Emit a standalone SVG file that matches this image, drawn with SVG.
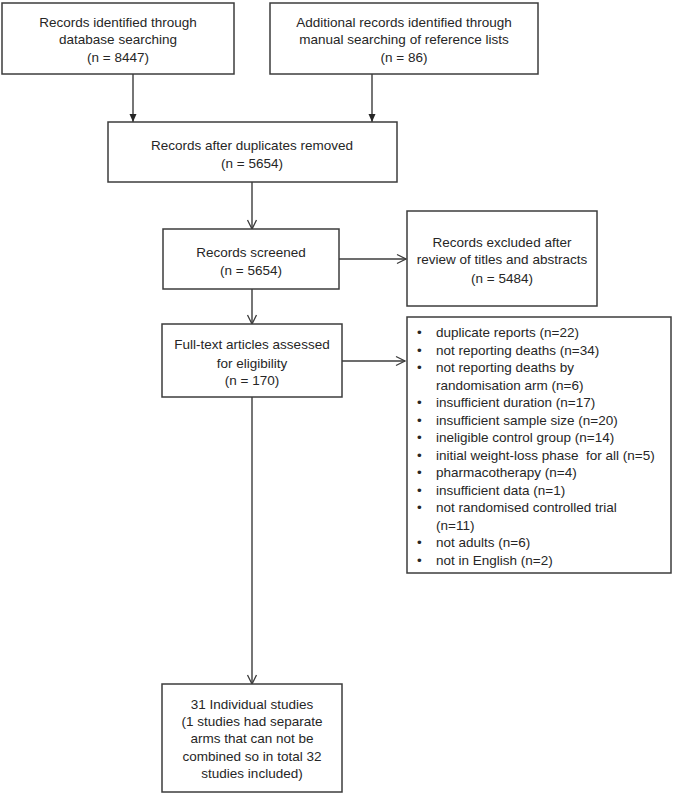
<svg xmlns="http://www.w3.org/2000/svg" width="674" height="796" viewBox="0 0 674 796">
<defs>
<style>
.box{fill:#fff;stroke:#3c3c3c;stroke-width:1.5}
.t{font-family:"Liberation Sans",Arial,sans-serif;font-size:13.5px;fill:#262626;text-anchor:middle}
.l{font-family:"Liberation Sans",Arial,sans-serif;font-size:13.5px;fill:#262626}
.c{stroke:#3c3c3c;stroke-width:1.4;fill:none}
</style>
<marker id="fill" markerWidth="10" markerHeight="10" refX="9" refY="5" orient="auto" markerUnits="userSpaceOnUse">
<path d="M1,1.5 L9,5 L1,8.5 Z" fill="#262626"/>
</marker>
<marker id="open" markerWidth="12" markerHeight="12" refX="10" refY="6" orient="auto" markerUnits="userSpaceOnUse">
<path d="M1,1.5 L10,6 L1,10.5" fill="none" stroke="#3c3c3c" stroke-width="1.3"/>
</marker>
</defs>
<rect width="674" height="796" fill="#fff"/>
<g id="connectors">
<line class="c" x1="133" y1="74" x2="133" y2="122" marker-end="url(#fill)"/>
<line class="c" x1="372" y1="74" x2="372" y2="122" marker-end="url(#fill)"/>
<line class="c" x1="252" y1="182" x2="252" y2="229" marker-end="url(#open)"/>
<line class="c" x1="339" y1="259" x2="406" y2="259" marker-end="url(#open)"/>
<line class="c" x1="252" y1="289" x2="252" y2="324" marker-end="url(#open)"/>
<line class="c" x1="342" y1="361" x2="405" y2="361" marker-end="url(#open)"/>
<line class="c" x1="252" y1="397" x2="252" y2="684" marker-end="url(#open)"/>
</g>
<g id="n1">
<rect class="box" x="2" y="3" width="232" height="71"/>
<text class="t" x="118" y="27">Records identified through</text>
<text class="t" x="118" y="44">database searching</text>
<text class="t" x="118" y="62">(n = 8447)</text>
</g>
<g id="n2">
<rect class="box" x="270" y="3" width="268" height="71"/>
<text class="t" x="404" y="27">Additional records identified through</text>
<text class="t" x="404" y="44">manual searching of reference lists</text>
<text class="t" x="404" y="62">(n = 86)</text>
</g>
<g id="n3">
<rect class="box" x="108" y="122" width="289" height="60"/>
<text class="t" x="252" y="150">Records after duplicates removed</text>
<text class="t" x="252" y="168">(n = 5654)</text>
</g>
<g id="n4">
<rect class="box" x="163" y="229" width="176" height="60"/>
<text class="t" x="251" y="257">Records screened</text>
<text class="t" x="251" y="275">(n = 5654)</text>
</g>
<g id="n5">
<rect class="box" x="407" y="211" width="190" height="95"/>
<text class="t" x="502" y="247">Records excluded after</text>
<text class="t" x="502" y="264">review of titles and abstracts</text>
<text class="t" x="502" y="283">(n = 5484)</text>
</g>
<g id="n6">
<rect class="box" x="162" y="324" width="180" height="73"/>
<text class="t" x="252" y="349">Full-text articles assessed</text>
<text class="t" x="252" y="368">for eligibility</text>
<text class="t" x="252" y="385">(n = 170)</text>
</g>
<g id="n7">
<rect class="box" x="407" y="317" width="264" height="256"/>
<g class="l">
<text x="417" y="337">•</text><text x="436" y="337">duplicate reports (n=22)</text>
<text x="417" y="354.5">•</text><text x="436" y="354.5">not reporting deaths (n=34)</text>
<text x="417" y="372">•</text><text x="436" y="372">not reporting deaths by</text>
<text x="436" y="389.5">randomisation arm (n=6)</text>
<text x="417" y="407">•</text><text x="436" y="407">insufficient duration (n=17)</text>
<text x="417" y="424.5">•</text><text x="436" y="424.5">insufficient sample size (n=20)</text>
<text x="417" y="442">•</text><text x="436" y="442">ineligible control group (n=14)</text>
<text x="417" y="459.5">•</text><text x="436" y="459.5" xml:space="preserve">initial weight-loss phase  for all (n=5)</text>
<text x="417" y="477">•</text><text x="436" y="477">pharmacotherapy (n=4)</text>
<text x="417" y="494.5">•</text><text x="436" y="494.5">insufficient data (n=1)</text>
<text x="417" y="512">•</text><text x="436" y="512">not randomised controlled trial</text>
<text x="436" y="529.5">(n=11)</text>
<text x="417" y="547">•</text><text x="436" y="547">not adults (n=6)</text>
<text x="417" y="564.5">•</text><text x="436" y="564.5">not in English (n=2)</text>
</g>
</g>
<g id="n8">
<rect class="box" x="162" y="684" width="180" height="108"/>
<text class="t" x="252" y="709">31 Individual studies</text>
<text class="t" x="252" y="726">(1 studies had separate</text>
<text class="t" x="252" y="743">arms that can not be</text>
<text class="t" x="252" y="761">combined so in total 32</text>
<text class="t" x="252" y="778">studies included)</text>
</g>
</svg>
